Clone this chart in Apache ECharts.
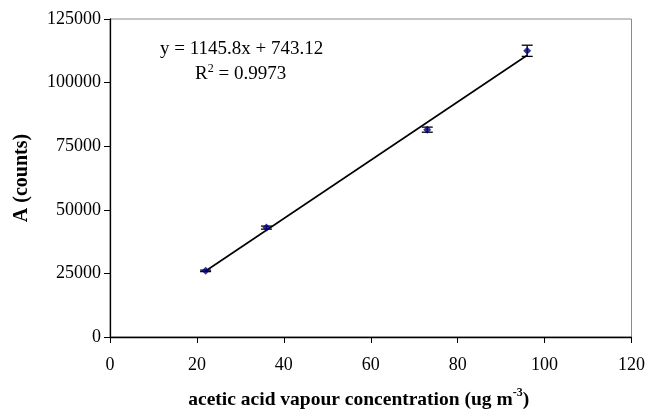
<!DOCTYPE html>
<html>
<head>
<meta charset="utf-8">
<script src="https://cdn.jsdelivr.net/npm/echarts@6/dist/echarts.min.js"></script>
<style>
  html, body { margin: 0; padding: 0; background: #fff; }
  #chart { width: 648px; height: 419px; }
</style>
</head>
<body>
<div id="chart"></div>
<script>
// Calibration measurements: vapour concentration vs detector response
const concentration = [22, 36, 73, 96];
const counts = [26000, 43000, 81500, 112500];
const countErrors = [300, 600, 1000, 2200];

// Least-squares fit reported on the chart
const slope = 1145.8;
const intercept = 743.12;
const rSquared = 0.9973;

// Axis ticks
const xTicks = [0, 20, 40, 60, 80, 100, 120];
const yTicks = [0, 25000, 50000, 75000, 100000, 125000];

const FONT = "'Liberation Serif', 'Times New Roman', serif";

const points = concentration.map((x, i) => [x, counts[i]]);
const bars = concentration.map((x, i) => [x, counts[i] - countErrors[i], counts[i] + countErrors[i]]);
const xMin = Math.min(...concentration);
const xMax = Math.max(...concentration);
const fitLine = [[xMin, slope * xMin + intercept], [xMax, slope * xMax + intercept]];

const chart = echarts.init(document.getElementById('chart'), null, { renderer: 'canvas' });

chart.setOption({
  animation: false,
  backgroundColor: '#ffffff',
  grid: {
    left: 110, right: 16, top: 19, bottom: 82,
    show: true, borderColor: '#8c8c8c', borderWidth: 1
  },
  xAxis: {
    type: 'value',
    min: xTicks[0], max: xTicks[xTicks.length - 1], interval: xTicks[1] - xTicks[0],
    axisLine: { show: true, onZero: false, lineStyle: { color: '#000', width: 1.3 } },
    axisTick: { show: true, inside: false, length: 6, lineStyle: { color: '#000' } },
    splitLine: { show: false },
    axisLabel: { color: '#000', fontFamily: FONT, fontSize: 18, margin: 19 },
    name: '{b|acetic acid vapour concentration (ug m}{s|-3}{b|)}',
    nameLocation: 'middle',
    nameGap: 50,
    nameTextStyle: {
      padding: [0, 24, 0, 0],
      rich: {
        b: { fontFamily: FONT, fontSize: 19.5, fontWeight: 'bold', color: '#000' },
        s: { fontFamily: FONT, fontSize: 12, fontWeight: 'bold', color: '#000', verticalAlign: 'top', padding: [0, 0, 13, 0] }
      }
    }
  },
  yAxis: {
    type: 'value',
    min: yTicks[0], max: yTicks[yTicks.length - 1], interval: yTicks[1] - yTicks[0],
    axisLine: { show: true, onZero: false, lineStyle: { color: '#000', width: 1.3 } },
    axisTick: { show: true, inside: false, length: 6, lineStyle: { color: '#000' } },
    splitLine: { show: false },
    axisLabel: {
      color: '#000', fontFamily: FONT, fontSize: 18, margin: 9,
      formatter: function (v) { return String(v); }
    },
    name: 'A (counts)',
    nameLocation: 'middle',
    nameGap: 78,
    nameTextStyle: { fontFamily: FONT, fontSize: 20, fontWeight: 'bold', color: '#000' }
  },
  graphic: [
    {
      type: 'text', left: 160, top: 40,
      style: { text: 'y = ' + slope + 'x + ' + intercept, font: '19px ' + FONT, fill: '#000' }
    },
    {
      type: 'text', left: 195, top: 63,
      style: {
        text: '{t|R}{s|2}{t| = ' + rSquared + '}',
        rich: {
          t: { fontFamily: FONT, fontSize: 19, fill: '#000' },
          s: { fontFamily: FONT, fontSize: 12, fill: '#000', verticalAlign: 'top', padding: [0, 0, 11, 0] }
        }
      }
    }
  ],
  series: [
    {
      type: 'line',
      data: fitLine,
      symbol: 'none',
      lineStyle: { color: '#000', width: 1.6 },
      z: 2
    },
    {
      type: 'custom',
      data: bars,
      renderItem: function (params, api) {
        const x = api.value(0);
        const lo = api.coord([x, api.value(1)]);
        const hi = api.coord([x, api.value(2)]);
        const cap = 5.5;
        const style = { stroke: '#000', lineWidth: 1.3 };
        return {
          type: 'group',
          children: [
            { type: 'line', shape: { x1: lo[0], y1: lo[1], x2: hi[0], y2: hi[1] }, style },
            { type: 'line', shape: { x1: lo[0] - cap, y1: lo[1], x2: lo[0] + cap, y2: lo[1] }, style },
            { type: 'line', shape: { x1: hi[0] - cap, y1: hi[1], x2: hi[0] + cap, y2: hi[1] }, style }
          ]
        };
      },
      z: 3
    },
    {
      type: 'scatter',
      data: points,
      symbol: 'diamond',
      symbolSize: 8,
      itemStyle: { color: '#000080' },
      z: 4
    }
  ]
});
</script>
</body>
</html>
